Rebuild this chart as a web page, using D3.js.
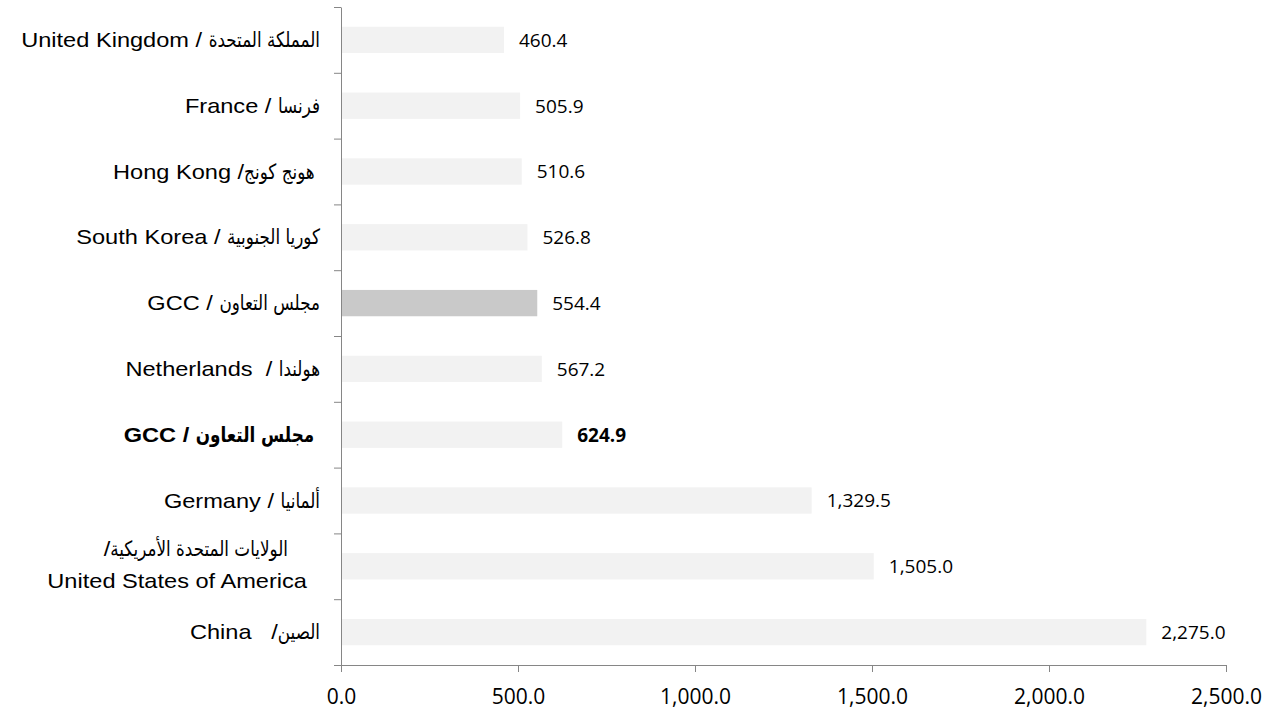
<!DOCTYPE html>
<html>
<head>
<meta charset="utf-8">
<script src="https://cdn.jsdelivr.net/npm/d3@7"></script>
<style>
  body { margin: 0; background: #fff; }
  text { white-space: pre; }
</style>
</head>
<body>
<div id="root"></div>
<script>
// categories top to bottom: English part (with separator), Arabic part
const namesEn = [
    "United Kingdom / ",
    "France / ",
    "Hong Kong /",
    "South Korea / ",
    "GCC / ",
    "Netherlands  / ",
    "GCC / ",
    "Germany / ",
    "United States of America  ",
    "China   /"
];
const namesAr = [
    "المملكة المتحدة",
    "فرنسا",
    "هونج كونج ",
    "كوريا الجنوبية",
    "مجلس التعاون",
    "هولندا",
    "مجلس التعاون ",
    "ألمانيا",
    "الولايات المتحدة الأمريكية      ",
    "الصين"
];
// the USA label sits on two lines: "/ Arabic" above, English below
const twoLine = [false, false, false, false, false, false, false, false, true, false];
const values = [460.4, 505.9, 510.6, 526.8, 554.4, 567.2, 624.9, 1329.5, 1505.0, 2275.0];
const highlight = [false, false, false, false, true, false, false, false, false, false];
const bold = [false, false, false, false, false, false, true, false, false, false];
const xTicks = [0, 500, 1000, 1500, 2000, 2500];

document.addEventListener("DOMContentLoaded", () => {
    const width = 1281, height = 710;
    const left = 341, right = 1226, top = 7, bottom = 665;
    const labelRight = 320;
    const enStretch = 1.18, arStretch = 0.8;

    const svg = d3.select("#root").append("svg")
        .attr("width", width)
        .attr("height", height);

    const x = d3.scaleLinear().domain([0, 2500]).range([left, right]);
    const y = d3.scaleBand().domain(d3.range(values.length)).range([top, bottom]).paddingInner(0.6).paddingOuter(0.3);
    const yIdx = d3.scaleLinear().domain([0, values.length]).range([top, bottom]);

    const fmt = d3.format(",.1f");

    svg.selectAll(".bar")
        .data(values)
        .enter().append("rect")
        .attr("class", "bar")
        .attr("x", x(0))
        .attr("y", (d, i) => y(i))
        .attr("width", d => x(d) - x(0))
        .attr("height", y.bandwidth())
        .attr("fill", (d, i) => highlight[i] ? "#c9c9c9" : "#f2f2f2");

    svg.selectAll(".val")
        .data(values)
        .enter().append("text")
        .attr("class", "val")
        .attr("x", d => x(d) + 15)
        .attr("y", (d, i) => y(i) + y.bandwidth() / 2)
        .attr("dy", "0.36em")
        .style("font-family", "'Open Sans', sans-serif")
        .style("font-size", "19px")
        .style("font-weight", (d, i) => bold[i] ? "bold" : "normal")
        .style("fill", "#000")
        .text(d => fmt(d));

    // one piece of label text, right edge at xr, returns its drawn width
    function piece(txt, xr, yb, ar, isBold) {
        const t = svg.append("text")
            .attr("transform", `translate(${xr},${yb}) scale(${ar ? arStretch : enStretch},1)`)
            .attr("text-anchor", "end")
            .style("font-family", ar ? "'DejaVu Sans', sans-serif" : "'Liberation Sans', Arial, sans-serif")
            .style("font-size", ar ? "21px" : "20px")
            .style("font-weight", isBold ? "bold" : "normal")
            .style("fill", "#000")
            .text(txt);
        return t.node().getComputedTextLength() * (ar ? arStretch : enStretch);
    }

    namesEn.forEach((en, i) => {
        const c = y(i) + y.bandwidth() / 2;
        if (twoLine[i]) {
            const w = piece(namesAr[i], labelRight, c - 10, true, bold[i]);
            piece("/", labelRight - w, c - 10, false, bold[i]);
            piece(en, labelRight, c + 22, false, bold[i]);
        } else {
            const w = piece(namesAr[i], labelRight, c + 7, true, bold[i]);
            piece(en, labelRight - w, c + 7, false, bold[i]);
        }
    });

    // y axis with ticks at the category boundaries
    const yAxis = svg.append("g")
        .attr("transform", `translate(${left},0)`)
        .call(d3.axisLeft(yIdx).ticks(values.length).tickSize(7).tickFormat("").tickSizeOuter(0));
    yAxis.select(".domain").attr("stroke", "#868686");
    yAxis.selectAll(".tick line").attr("stroke", "#868686");

    const xAxis = svg.append("g")
        .attr("transform", `translate(0,${bottom})`)
        .call(d3.axisBottom(x).tickValues(xTicks).tickSize(7).tickSizeOuter(0).tickPadding(17).tickFormat(fmt));
    xAxis.select(".domain").attr("stroke", "#868686");
    xAxis.selectAll(".tick line").attr("stroke", "#868686");
    xAxis.selectAll(".tick text")
        .style("font-family", "'Open Sans', sans-serif")
        .style("font-size", "21px")
        .style("fill", "#000");
});
</script>
</body>
</html>
